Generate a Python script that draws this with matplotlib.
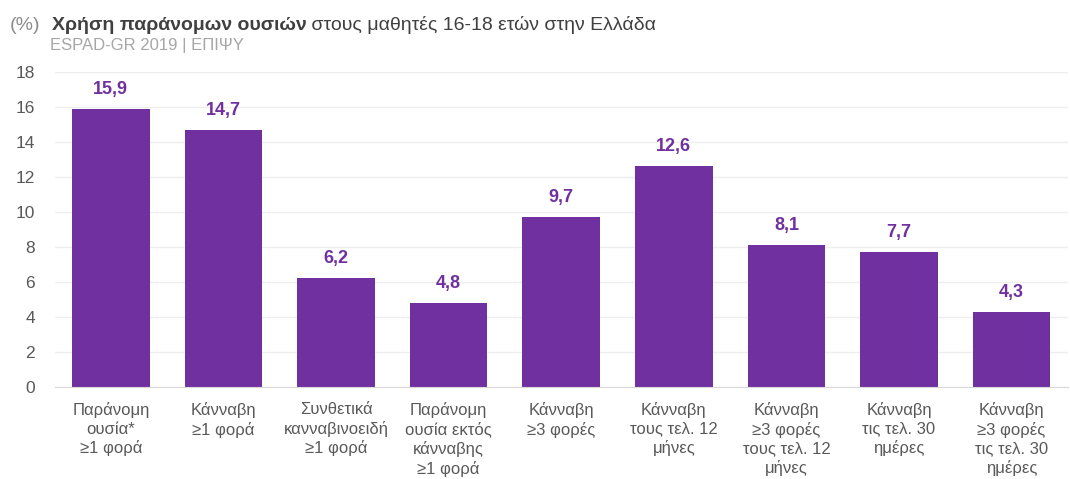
import matplotlib

matplotlib.use("Agg")
import matplotlib.pyplot as plt

plt.rcParams["font.family"] = ["Liberation Sans", "DejaVu Sans"]

CATEGORIES = [
    "Παράνομη\nουσία*\n≥1 φορά",
    "Κάνναβη\n≥1 φορά",
    "Συνθετικά\nκανναβινοειδή\n≥1 φορά",
    "Παράνομη\nουσία εκτός\nκάνναβης\n≥1 φορά",
    "Κάνναβη\n≥3 φορές",
    "Κάνναβη\nτους τελ. 12\nμήνες",
    "Κάνναβη\n≥3 φορές\nτους τελ. 12\nμήνες",
    "Κάνναβη\nτις τελ. 30\nημέρες",
    "Κάνναβη\n≥3 φορές\nτις τελ. 30\nημέρες",
]
VALUES = [15.9, 14.7, 6.2, 4.8, 9.7, 12.6, 8.1, 7.7, 4.3]
YTICKS = [0, 2, 4, 6, 8, 10, 12, 14, 16, 18]

PURPLE = "#7030A0"
GREY = "#595959"

fig = plt.figure(figsize=(10.7, 4.79), dpi=100)
ax = fig.add_axes([0.051, 0.192, 0.947, 0.658])

x = range(len(VALUES))
ax.bar(x, VALUES, width=0.69, color=PURPLE, zorder=2)
for xi, v in zip(x, VALUES):
    ax.annotate(f"{v:.1f}".replace(".", ","), xy=(xi, v), xytext=(0, 8),
                textcoords="offset points", ha="center", va="bottom",
                color=PURPLE, fontsize=13, fontweight="bold")

ax.set_xlim(-0.5, len(VALUES) - 0.5)
ax.set_ylim(0, 18)
ax.set_yticks(YTICKS)
ax.set_xticks(list(x))
ax.set_xticklabels(CATEGORIES, fontsize=12, color=GREY, linespacing=1.27)
ax.tick_params(axis="y", labelsize=12.5, labelcolor=GREY, length=0, pad=14)
ax.tick_params(axis="x", length=0, pad=11)
ax.grid(axis="y", color="#eeeeee", lw=1, zorder=0)
for s in ["top", "right", "left"]:
    ax.spines[s].set_visible(False)
ax.spines["bottom"].set_color("#d9d9d9")

# title pieces chained one after another
t0 = fig.text(10 / 1070, 1 - 30 / 479, "(%)", fontsize=14, color="#8c8c8c")
t1 = ax.annotate("Χρήση παράνομων ουσιών", xy=(1, 0), xycoords=t0,
                 xytext=(8, 0), textcoords="offset points", va="bottom",
                 fontsize=14, fontweight="bold", color="#404040")
ax.annotate(" στους μαθητές 16-18 ετών στην Ελλάδα", xy=(1, 0), xycoords=t1,
            va="bottom", fontsize=14, color="#404040")
fig.text(50 / 1070, 1 - 50 / 479, "ESPAD-GR 2019 | ΕΠΙΨΥ", fontsize=12,
         color="#a6a6a6")

fig.savefig("out.png", dpi=100)
